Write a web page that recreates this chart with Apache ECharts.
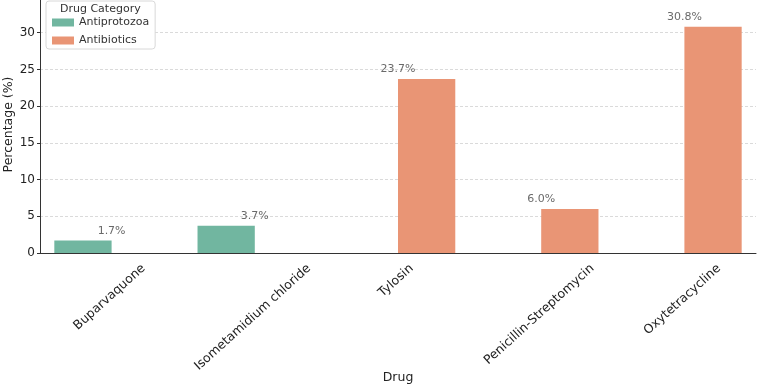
<!DOCTYPE html>
<html>
<head>
<meta charset="utf-8">
<script src="https://cdn.jsdelivr.net/npm/echarts@6/dist/echarts.min.js"></script>
<style>
  html, body { margin: 0; padding: 0; background: #fff; }
  #chart { width: 759px; height: 384px; }
</style>
</head>
<body>
<div id="chart"></div>
<script>
const drugs = ['Buparvaquone', 'Isometamidium chloride', 'Tylosin', 'Penicillin-Streptomycin', 'Oxytetracycline'];
const antiprotozoa = [1.7, 3.7, null, null, null];
const antibiotics = [null, null, 23.7, 6.0, 30.8];
const percentages = [1.7, 3.7, 23.7, 6.0, 30.8];

const FONT = 'DejaVu Sans';
const GREEN = '#71b6a0';
const ORANGE = '#e99575';
const LABEL_SIZE = 12.5;
const LABEL_ANGLE = 42 * Math.PI / 180;

const ctx = document.createElement('canvas').getContext('2d');
ctx.font = LABEL_SIZE + 'px "' + FONT + '"';

// rotated tick labels centred under their tick, top of the rotated box 9px below the axis
function renderDrugLabel(params, api) {
  const name = drugs[params.dataIndex];
  const pt = api.coord([params.dataIndex, 0]);
  const w = ctx.measureText(name).width;
  const half = (w * Math.sin(LABEL_ANGLE) + LABEL_SIZE * Math.cos(LABEL_ANGLE)) / 2;
  return {
    type: 'text',
    x: pt[0] - 2,
    y: pt[1] + 9 + half,
    rotation: LABEL_ANGLE,
    style: {
      text: name,
      fontSize: LABEL_SIZE,
      fontFamily: FONT,
      fill: '#222',
      align: 'center',
      verticalAlign: 'middle'
    }
  };
}

const chart = echarts.init(document.getElementById('chart'));

chart.setOption({
  animation: false,
  textStyle: { fontFamily: FONT },
  // top is negative so the 35 line falls just off the canvas (axis top ~34.2)
  grid: { left: 40, right: 3, top: -4, bottom: 131, containLabel: false, outerBoundsMode: 'none' },
  legend: {
    data: ['Antiprotozoa', 'Antibiotics'],
    orient: 'vertical',
    left: 46,
    top: 1,
    padding: [16, 6, 3, 6],
    itemWidth: 22,
    itemHeight: 8,
    itemGap: 7,
    backgroundColor: '#fff',
    borderColor: '#d8d8d8',
    borderWidth: 1,
    borderRadius: 3,
    icon: 'rect',
    textStyle: { fontSize: 11, color: '#333', fontFamily: FONT }
  },
  graphic: [{
    type: 'text',
    left: 60,
    top: 4,
    z: 100,
    style: { text: 'Drug Category', fontSize: 11, fill: '#333', fontFamily: FONT }
  }],
  xAxis: {
    type: 'category',
    data: drugs,
    name: 'Drug',
    nameLocation: 'middle',
    nameGap: 118,
    nameMoveOverlap: false,
    nameTextStyle: { fontSize: 12.5, color: '#222' },
    axisLine: { lineStyle: { color: '#333', width: 1 } },
    axisTick: { alignWithLabel: true, inside: true, length: 3, lineStyle: { color: '#333' } },
    axisLabel: { show: false },
    splitLine: { show: false }
  },
  yAxis: {
    type: 'value',
    min: 0,
    max: 35,
    interval: 5,
    name: 'Percentage (%)',
    nameLocation: 'middle',
    nameGap: 25,
    nameMoveOverlap: false,
    nameTextStyle: { fontSize: 12.5, color: '#222' },
    axisLine: { show: true, lineStyle: { color: '#333', width: 1 } },
    axisTick: { show: true, length: 3, lineStyle: { color: '#333' } },
    axisLabel: { fontSize: 12, color: '#222', margin: 5, showMaxLabel: false },
    splitLine: { show: true, lineStyle: { color: '#d0d0d0', type: [3, 2], width: 0.8 } }
  },
  series: [
    {
      name: 'Antiprotozoa',
      type: 'bar',
      data: antiprotozoa,
      barWidth: '40%',
      barGap: '0%',
      barCategoryGap: '20%',
      itemStyle: { color: GREEN }
    },
    {
      name: 'Antibiotics',
      type: 'bar',
      data: antibiotics,
      barWidth: '40%',
      barGap: '0%',
      barCategoryGap: '20%',
      itemStyle: { color: ORANGE }
    },
    {
      name: 'labels',
      type: 'scatter',
      data: percentages,
      symbolSize: 0,
      silent: true,
      label: {
        show: true,
        position: 'top',
        distance: 4,
        fontSize: 11,
        color: '#444',
        formatter: p => p.value.toFixed(1) + '%'
      }
    },
    {
      name: 'drugLabels',
      type: 'custom',
      data: drugs,
      silent: true,
      clip: false,
      renderItem: renderDrugLabel
    }
  ]
});
</script>
</body>
</html>
